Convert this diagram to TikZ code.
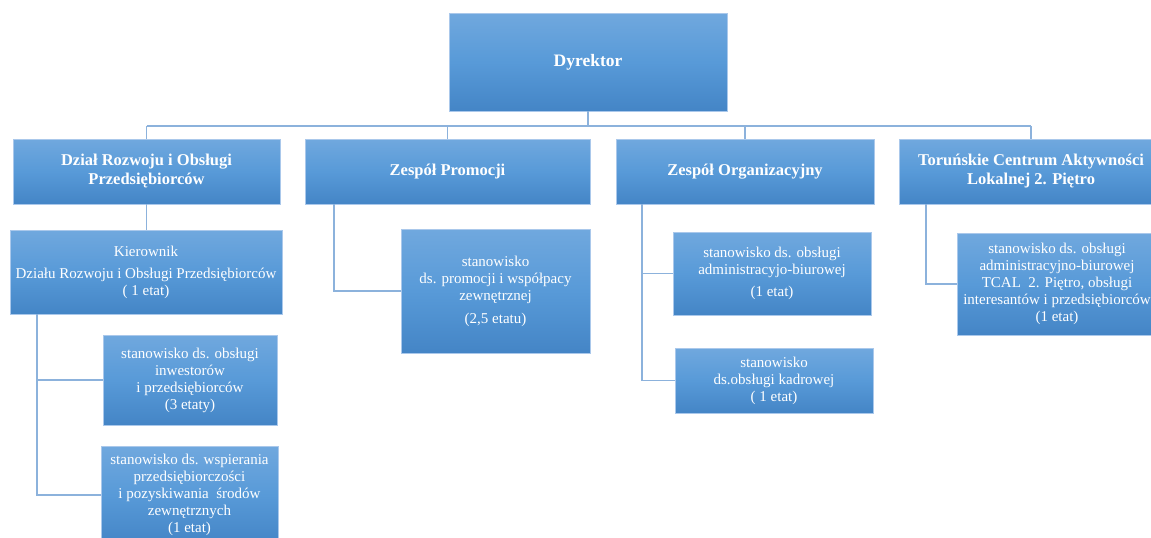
\documentclass[tikz,border=0pt]{standalone}
\usepackage{fontspec}
\setmainfont{Liberation Serif}
\definecolor{boxtop}{RGB}{112,168,222}
\definecolor{boxmid}{RGB}{88,154,216}
\definecolor{boxbot}{RGB}{68,133,198}
\definecolor{boxedge}{RGB}{170,200,235}
\definecolor{conncol}{RGB}{140,178,220}
\tikzset{
  orgbox/.style={rectangle, draw=boxedge, line width=0.8pt,
    top color=boxtop, bottom color=boxbot, middle color=boxmid,
    text=white, align=center, inner sep=0pt},
  headbox/.style={orgbox, font=\fontsize{16.5}{19}\selectfont\bfseries},
  subbox/.style={orgbox, font=\fontsize{15}{17}\selectfont},
  conn/.style={draw=conncol, line width=1.2pt}
}
\begin{document}
\begin{tikzpicture}[x=1pt,y=-1pt]
\useasboundingbox (0,0) rectangle (1151,538);
% top
\node[orgbox, font=\fontsize{17.5}{20}\selectfont\bfseries, minimum width=278pt, minimum height=98pt] (dyr) at (588,62) {Dyrektor};
% level 1
\node[headbox, minimum width=267pt, minimum height=65pt] (d1) at (146.5,171.5) {Dział Rozwoju i Obsługi\\Przedsiębiorców};
\node[headbox, minimum width=285pt, minimum height=65pt] (d2) at (447.5,171.5) {Zespół Promocji};
\node[headbox, minimum width=258pt, minimum height=65pt] (d3) at (745,171.5) {Zespół Organizacyjny};
\node[headbox, minimum width=264pt, minimum height=65pt] (d4) at (1031,171.5) {Toruńskie Centrum Aktywności\\Lokalnej 2. Piętro};
% level 2
\node[subbox, minimum width=272pt, minimum height=84pt] (kier) at (146,272) {Kierownik\\[5pt]Działu Rozwoju i Obsługi Przedsiębiorców\\( 1 etat)};
\node[subbox, minimum width=174pt, minimum height=90pt] (inw) at (190,380) {stanowisko ds. obsługi\\inwestorów\\i przedsiębiorców\\(3 etaty)};
\node[subbox, minimum width=177pt, minimum height=98pt] (wsp) at (189.5,495) {stanowisko ds. wspierania\\przedsiębiorczości\\i pozyskiwania\ \ środów\\zewnętrznych\\(1 etat)};
\node[subbox, minimum width=189pt, minimum height=124pt] (prom) at (495.5,291) {stanowisko\\ds. promocji i współpacy\\zewnętrznej\\[6pt](2,5 etatu)};
\node[subbox, minimum width=198pt, minimum height=83pt] (adm) at (772,273.5) {stanowisko ds. obsługi\\administracyjo-biurowej\\[5pt](1 etat)};
\node[subbox, minimum width=198pt, minimum height=65pt] (kadr) at (774,380.5) {stanowisko\\ds.obsługi kadrowej\\( 1 etat)};
\node[subbox, minimum width=200pt, minimum height=102pt] (tcal) at (1057,284) {stanowisko ds. obsługi\\administracyjno-biurowej\\TCAL\ \ 2. Piętro, obsługi\\interesantów i przedsiębiorców\\(1 etat)};
% connectors
\coordinate (busL) at (146.5,126);
\coordinate (busR) at (1031,126);
\draw[conn] (busL) -- (busR);
\draw[conn] (dyr.south) -- (dyr.south |- busL);
\draw[conn] (d1.north) -- (d1.north |- busL);
\draw[conn] (d2.north) -- (d2.north |- busL);
\draw[conn] (d3.north) -- (d3.north |- busL);
\draw[conn] (d4.north) -- (d4.north |- busL);
\draw[conn] (d1.south) -- (d1.south |- kier.north);
\coordinate (tk) at (37,314);
\draw[conn] (tk) |- (wsp.west);
\draw[conn] (tk |- inw.west) -- (inw.west);
\coordinate (t2) at (334,204);
\draw[conn] (t2) |- (prom.west);
\coordinate (t3) at (642,204);
\draw[conn] (t3) |- (kadr.west);
\draw[conn] (t3 |- adm.west) -- (adm.west);
\coordinate (t4) at (926,204);
\draw[conn] (t4) |- (tcal.west);
\end{tikzpicture}
\end{document}
